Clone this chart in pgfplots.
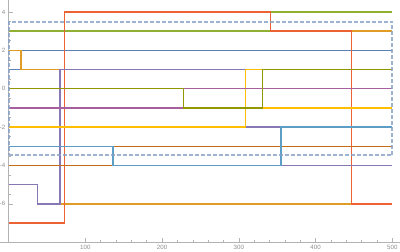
\documentclass[border=0pt]{standalone}
\usepackage{fontspec}
\setmainfont{Liberation Sans}
\usepackage{pgfplots}
\pgfplotsset{compat=1.18}
\definecolor{c1}{HTML}{5E81B5}
\definecolor{c2}{HTML}{E09C24}
\definecolor{c3}{HTML}{8FB032}
\definecolor{c4}{HTML}{EB6235}
\definecolor{c5}{HTML}{8778B3}
\definecolor{c6}{HTML}{C56E1A}
\definecolor{c7}{HTML}{5D9EC7}
\definecolor{c8}{HTML}{FFBF00}
\definecolor{c9}{HTML}{A5609D}
\definecolor{c10}{HTML}{929600}
\definecolor{axgray}{HTML}{B3B3B3}
\definecolor{lblgray}{HTML}{8C8C8C}
\begin{document}
\begin{tikzpicture}
\begin{axis}[
  scale only axis,
  width=300pt, height=181.7pt,
  xmin=-11.2, xmax=510, ymin=-8, ymax=4.62,
  axis x line=bottom, axis y line=middle,
  axis line style={axgray, line width=0.4pt, -},
  xtick={100,200,300,400,500},
  ytick={-6,-4,-2,0,2,4},
  minor x tick num=4, minor y tick num=3,
  tick align=inside,
  major tick length=3pt, minor tick length=1.6pt,
  tick style={axgray, line width=0.4pt},
  ticklabel style={font=\fontsize{4.6}{5}\selectfont, text=lblgray},
  /pgf/number format/assume math mode=true,
  yticklabel style={xshift=1pt},
  xticklabel style={yshift=1pt},
  clip=false,
  every axis plot/.append style={line width=0.95pt, const plot mark left},
]
\coordinate (bl) at (rel axis cs:0,0);
\coordinate (tr) at (rel axis cs:1,1);
\addplot[c1] coordinates {(0,1) (16.2,2) (500,2)};
\addplot[c2] coordinates {(0,2) (16.2,1) (67,-6) (446.4,3) (500,3)};
\addplot[c3] coordinates {(0,3) (341.7,4) (500,4)};
\addplot[c4] coordinates {(0,-7) (72.5,4) (341.7,3) (446.4,-6) (500,-6)};
\addplot[c5] coordinates {(0,-5) (37.4,-6) (67,1) (309,-2) (354.8,-4) (500,-4)};
\addplot[c6] coordinates {(0,-4) (136,-3) (500,-3)};
\addplot[c7] coordinates {(0,-3) (136,-4) (354.8,-2) (500,-2)};
\addplot[c8] coordinates {(0,-2) (309,1) (331,-1) (500,-1)};
\addplot[c9] coordinates {(0,-1) (227.8,0) (500,0)};
\addplot[c10] coordinates {(0,0) (227.8,-1) (331,1) (500,1)};
\addplot[color=c1!75, line width=1.5pt, dashed, dash pattern=on 3pt off 1.5pt, sharp plot, opacity=0.8]
  coordinates {(0,-3.48) (500,-3.48) (500,3.48) (0,3.48) (0,-3.48)};
\end{axis}
\pgfresetboundingbox
\path[use as bounding box] ([yshift=-6.75pt]bl) rectangle (tr);
\end{tikzpicture}
\end{document}
